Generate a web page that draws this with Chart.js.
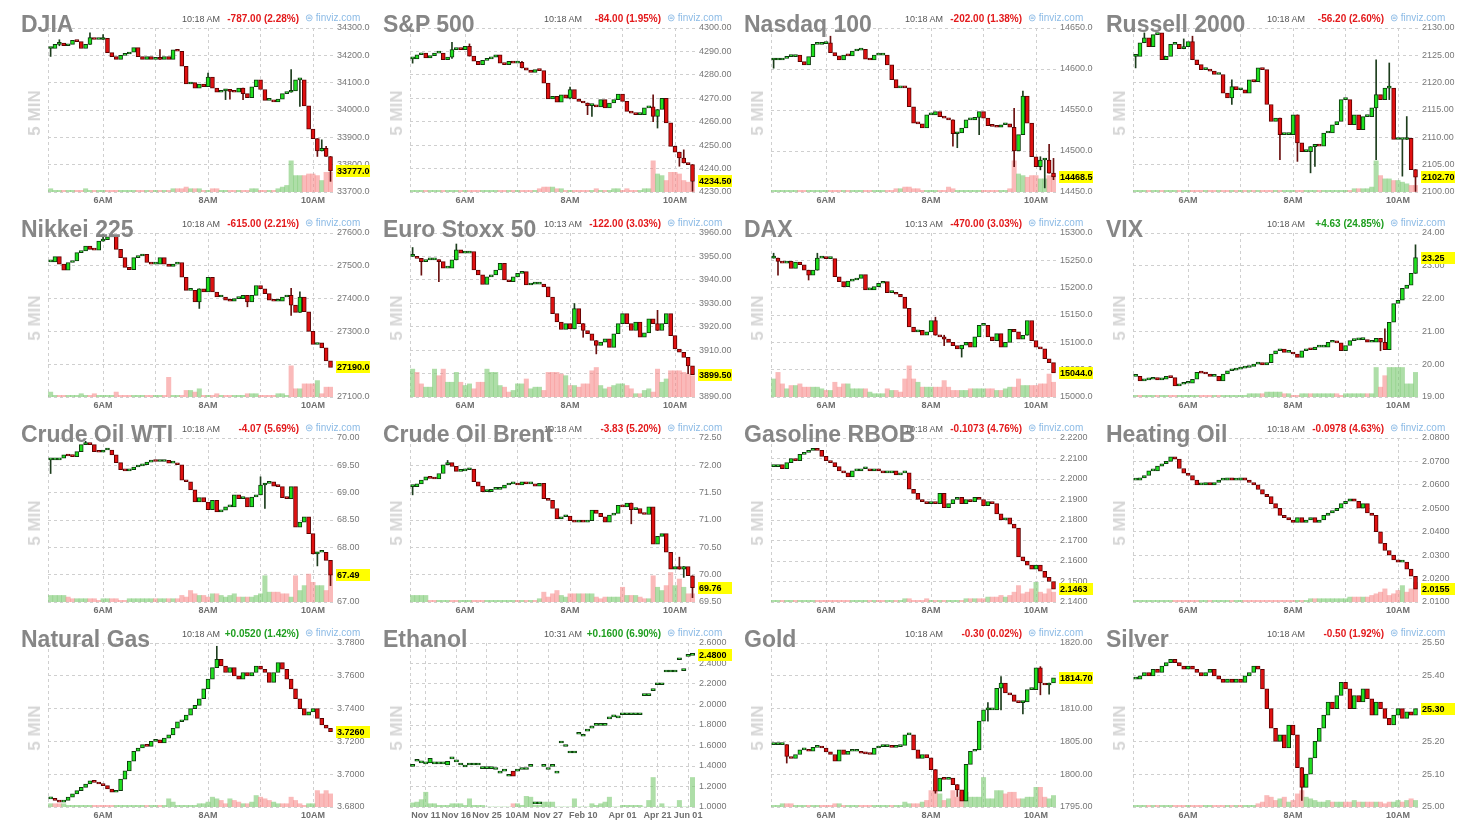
<!DOCTYPE html>
<html>
<head>
<meta charset="utf-8">
<script src="https://cdn.jsdelivr.net/npm/chart.js@4.4.0/dist/chart.umd.min.js"></script>
<style>
html, body { margin: 0; padding: 0; background: #fff; }
body { width: 1466px; height: 822px; position: relative; overflow: hidden; font-family: "Liberation Sans", Arial, sans-serif; }
canvas { position: absolute; }
.ttl { position: absolute; font-weight: bold; font-size: 23px; line-height: 23px; color: #868686; white-space: nowrap; z-index: 3; }
.tm { position: absolute; font-size: 9px; line-height: 10px; color: #555; white-space: nowrap; z-index: 2; }
.chg { position: absolute; font-size: 10px; line-height: 10px; font-weight: bold; text-align: right; width: 90px; white-space: nowrap; z-index: 2; }
.fv { position: absolute; font-size: 10px; line-height: 10px; color: #8cbbe6; white-space: nowrap; z-index: 2; }
.min5 { position: absolute; font-weight: bold; font-size: 17px; color: #d6d6d6; white-space: nowrap; transform: translate(-50%, -50%) rotate(-90deg); }
</style>
</head>
<body>
<script>
// 5 minute candles, 5:00 AM .. 10:20 AM (index 0 = 5:00)
const hourGrid = [12, 24, 36, 48, 60];
const hourTicks = [12, 36, 60];
const hourLabels = ['6AM', '8AM', '10AM'];

// wicks: [candle index, low, high] for the wicks that stick out visibly
const djiaClose = [34225,34240,34245,34235,34240,34255,34250,34225,34240,34265,
  34258,34258,34262,34210,34195,34185,34200,34205,34212,34228,
  34195,34185,34195,34185,34190,34185,34195,34185,34220,34215,
  34160,34095,34100,34080,34095,34085,34120,34080,34065,34070,
  34075,34068,34065,34080,34060,34045,34085,34110,34075,34035,
  34035,34030,34040,34060,34065,34070,34110,34110,34015,33930,
  33895,33850,33860,33830,33777];
const djiaVol = [2,1,1,1,1,1,1,1,2,1, 1,1,1,1,1,1,1,1,1,1, 1,1,1,1,1,1,1,1,2,2,
  2,3,2,2,2,1,1,2,2,1, 1,1,1,1,1,1,2,2,1,1, 1,1,2,3,4,19,10,10,10,11, 11,10,7,12,12];
const djiaWicks = [[0,34196,34228],[2,34235,34257],[9,34240,34282],[12,34258,34276],[25,34185,34221],
  [36,34085,34135],[40,34038,34075],[41,34040,34075],[44,34038,34080],[55,34065,34148],
  [57,34013,34110],[61,33830,33895],[62,33850,33891],[63,33830,33867],[64,33739,33830]];
const djiaTicks = [33700,33800,33900,34000,34100,34200,34300];

const spxClose = [4286.8,4288.6,4289.3,4287.2,4288.2,4289.3,4289.3,4286.5,4287.6,4290.8,
  4291,4290.8,4292.2,4288,4285.8,4284.4,4286.2,4286.8,4287.6,4288.6,
  4285,4284.4,4285.8,4285,4285.3,4283,4282,4281,4282.2,4281.8,
  4276.5,4269.7,4270.8,4268.3,4271.5,4270.1,4273.7,4269.7,4268.7,4268,
  4266.9,4266.9,4266.3,4269.4,4265.9,4268,4269.4,4271.8,4268.7,4264.4,
  4263.7,4263,4263,4265.9,4266.3,4262.3,4265.2,4270,4259.5,4249.5,
  4247,4244.5,4242.4,4241.7,4234.5];
const spxVol = [1,1,1,1,1,1,1,1,1,1, 1,1,1,1,1,1,1,1,1,1, 1,1,1,1,1,1,1,1,1,2,
  3,3,3,2,2,1,1,1,1,1, 1,1,2,1,1,1,2,2,1,2, 1,1,1,2,2,19,11,10,7,12, 12,11,7,6,6];
const spxWicks = [[0,4285,4287],[9,4287,4293.9],[13,4288,4293.2],[25,4283,4285.8],[36,4269.7,4274.8],
  [40,4263,4268],[41,4262.3,4267],[55,4260,4271.5],[56,4257.3,4265.2],[61,4241,4247],
  [62,4242.4,4248],[64,4230.3,4241.7]];
const spxTicks = [4230,4240,4250,4260,4270,4280,4290,4300];

const ndxClose = [14611,14611,14613,14615,14615,14617,14609,14605,14615,14630,
  14630,14631,14632,14620,14616,14611,14617,14616,14622,14623,
  14624,14612,14611,14617,14617,14617,14605,14587,14577,14578,
  14577,14554,14534,14533,14528,14544,14544,14548,14542,14540,
  14538,14521,14522,14528,14538,14538,14541,14548,14540,14531,
  14530,14529,14532,14533,14529,14500,14520,14567,14534,14493,
  14481,14489,14489,14473,14468.5];
const ndxVol = [1,1,1,1,1,1,1,1,1,1, 1,1,1,1,1,1,1,1,1,1, 1,1,1,1,1,1,1,1,2,2,
  3,3,2,2,1,1,1,1,1,1, 3,2,1,1,1,1,1,1,1,1, 1,1,1,1,2,19,11,10,9,10, 10,8,8,10,10];
const ndxWicks = [[0,14601,14612],[13,14620,14640],[41,14506,14538],[42,14504,14522],[47,14520,14541],
  [55,14481,14552],[57,14520,14573],[61,14477,14493],[62,14455,14489],[63,14473,14508],[64,14465,14491]];
const ndxTicks = [14450,14500,14550,14600,14650];

const rutClose = [2124.8,2127.3,2128.2,2126.6,2128.8,2129.1,2124.2,2124.8,2127,2127,
  2126.2,2126.6,2127.5,2124.2,2123.3,2122.4,2122.4,2122.1,2121.5,2121.5,
  2118.1,2117.2,2119.3,2118.7,2118.7,2118.1,2120.5,2120.2,2122.7,2122.4,
  2116,2112.9,2113.5,2110.5,2110.5,2110.5,2114.1,2109,2107.4,2107.4,
  2108.3,2108.7,2108.4,2110.8,2110.8,2112.3,2112.9,2116.9,2116.9,2112.3,
  2114.1,2111.4,2113.8,2113.8,2115.4,2117.8,2116.9,2119,2119,2109.6,
  2109.6,2109.6,2109.8,2104.1,2102.7];
const rutVol = [1,1,1,1,1,1,1,1,1,1, 1,1,1,1,1,1,1,1,1,1, 1,1,1,1,1,1,1,1,1,1,
  1,1,1,1,1,1,1,1,1,1, 1,1,1,1,1,1,1,1,1,1, 2,2,2,2,3,19,10,8,8,7, 7,6,5,4,4];
const rutWicks = [[0,2122.7,2125],[2,2127.3,2129.1],[11,2126.2,2128],[13,2124.2,2128.5],[22,2116,2120.5],
  [33,2105.9,2113.5],[37,2105.6,2114.1],[40,2103.5,2108.3],[41,2104.7,2108.7],[55,2105.9,2124.2],
  [58,2116.9,2123.6],[61,2102.9,2109.6],[62,2109.6,2113.8],[63,2104.1,2107.1],[64,2100.1,2104.1]];
const rutTicks = [2100,2105,2110,2115,2120,2125,2130];

const nikkeiClose = [27512,27528,27505,27487,27510,27515,27540,27545,27560,27550,
  27548,27575,27580,27588,27590,27550,27525,27495,27488,27525,
  27530,27535,27510,27505,27505,27525,27505,27498,27505,27510,
  27465,27425,27425,27390,27430,27420,27465,27420,27405,27405,
  27395,27392,27400,27400,27410,27390,27410,27440,27430,27415,
  27395,27392,27392,27405,27410,27380,27358,27405,27360,27300,
  27260,27265,27250,27210,27190];
const nikkeiVol = [3,1,1,1,1,1,1,2,1,1, 2,1,1,1,1,3,1,1,1,1, 1,1,1,1,1,1,1,12,1,1,
  1,4,4,3,5,1,1,1,2,1, 1,1,1,1,1,2,2,2,1,1, 1,1,2,2,1,19,5,5,8,8, 8,10,2,6,6];
const nikkeiWicks = [[12,27575,27595],[34,27370,27430],[45,27375,27410],[55,27349,27431],[57,27358,27421]];
const nikkeiTicks = [27100,27200,27300,27400,27500,27600];

const stoxxClose = [3950,3949.2,3947.8,3948.5,3948.5,3948.5,3947.8,3945,3945,3948.5,
  3952.8,3951.4,3951.4,3952.1,3944.2,3942.1,3938,3941.3,3942.1,3944.2,
  3947.1,3940,3939.2,3941.3,3942.8,3943.5,3937.8,3938.2,3938.2,3938.2,
  3937,3932.7,3925.6,3922,3918.8,3921.3,3919.1,3927.7,3921.3,3918.4,
  3917,3914.1,3912,3913.4,3914.8,3911.2,3917,3921.3,3925.6,3921.3,
  3918.4,3922,3915.5,3917.4,3923.4,3921.3,3918.4,3921.3,3925.6,3916.2,
  3910.5,3909.1,3906.9,3903.3,3899.5];
const stoxxVol = [17,15,8,6,6,17,13,17,9,9, 15,9,7,8,5,9,9,17,15,15, 7,6,3,4,8,8,11,5,6,6,
  4,15,15,15,14,13,7,7,6,8, 8,16,18,7,5,6,7,8,8,7, 5,2,2,4,5,3,17,9,11,16, 16,16,15,14,13];
const stoxxWicks = [[0,3950,3953.8],[2,3942,3949.2],[6,3939.2,3948.5],[10,3948.5,3955.3],[37,3919.1,3929.9],
  [39,3915.5,3921.3],[42,3908.4,3914.1],[56,3918.4,3927],[63,3900,3906.9]];
const stoxxTicks = [3890,3900,3910,3920,3930,3940,3950,3960];

const daxClose = [15254,15248,15245,15248,15235,15247,15242,15232,15223,15232,
  15254,15254,15253,15253,15220,15211,15202,15212,15214,15217,
  15224,15196,15196,15202,15208,15211,15191,15191,15188,15183,
  15162,15128,15119,15122,15113,15119,15140,15113,15110,15106,
  15100,15094,15088,15095,15100,15091,15110,15131,15131,15110,
  15103,15116,15091,15100,15124,15119,15106,15113,15140,15103,
  15091,15088,15070,15063,15044];
const daxVol = [11,15,8,5,7,7,8,6,6,6, 6,5,4,4,9,6,8,8,5,5, 5,5,3,2,2,2,5,4,4,3,
  11,19,11,9,6,6,6,6,6,10, 6,4,4,4,4,5,5,5,5,5, 5,4,4,5,6,6,11,7,7,7, 7,8,8,14,9];
const daxWicks = [[0,15254,15263],[1,15223,15254],[8,15214,15232],[10,15232,15263],[37,15113,15146],
  [39,15094,15113],[43,15073,15094],[58,15113,15137]];
const daxTicks = [15000,15050,15100,15150,15200,15250,15300];

const vixClose = [19.63,19.49,19.52,19.54,19.59,19.52,19.54,19.63,19.59,19.34,
  19.39,19.42,19.42,19.54,19.75,19.73,19.70,19.63,19.63,19.49,
  19.70,19.80,19.82,19.85,19.88,19.90,19.93,20.00,20.05,19.98,
  20.05,20.31,20.41,20.46,20.36,20.36,20.31,20.21,20.41,20.46,
  20.44,20.52,20.52,20.52,20.67,20.67,20.65,20.41,20.57,20.72,
  20.74,20.75,20.75,20.67,20.67,20.79,20.67,20.44,21.28,21.85,
  21.95,22.31,22.41,22.77,23.25];
const vixVol = [1,1,1,1,1,1,1,1,1,1, 1,1,1,1,1,1,1,1,1,1, 1,1,1,1,1,1,2,2,2,2,
  3,3,3,3,2,2,1,1,2,2, 2,2,2,2,2,2,2,1,2,2, 2,2,2,2,2,18,6,13,18,18, 18,18,8,8,15];
const vixWicks = [[56,20.41,20.79],[57,20.44,21.08],[63,22.6,22.77],[64,22.77,23.64]];
const vixTicks = [19,20,21,22,23,24];

const wtiClose = [69.60,69.60,69.63,69.69,69.67,69.66,69.75,69.88,69.91,69.88,
  69.75,69.74,69.78,69.78,69.69,69.55,69.42,69.40,69.42,69.47,
  69.49,69.51,69.56,69.59,69.57,69.57,69.59,69.54,69.54,69.51,
  69.23,69.20,69.05,68.83,68.91,68.83,68.69,68.86,68.65,68.68,
  68.74,68.74,68.96,68.89,68.91,68.74,68.92,68.96,69.14,69.17,
  69.20,69.12,69.11,68.91,68.89,69.11,68.37,68.46,68.56,68.25,
  67.88,67.91,67.91,67.76,67.49];
const wtiVol = [4,4,4,4,3,2,2,2,2,2, 2,1,2,2,2,2,1,1,2,2, 2,2,2,2,2,2,2,2,2,2,
  4,3,7,5,4,4,3,5,5,4, 3,4,5,3,3,3,3,4,5,16, 6,6,6,5,5,3,16,7,10,17, 12,10,10,7,17];
const wtiWicks = [[0,69.35,69.60],[8,69.88,69.94],[48,68.96,69.29],[49,68.71,69.17],[60,67.88,68.09],
  [61,67.66,67.91],[64,67.30,67.76]];
const wtiTicks = [67,67.5,68,68.5,69,69.5,70];

const brentClose = [71.61,71.66,71.73,71.79,71.76,71.75,71.85,72.01,72.05,71.98,
  71.89,71.90,71.92,71.93,71.70,71.62,71.52,71.52,71.56,71.56,
  71.58,71.64,71.66,71.66,71.64,71.70,71.66,71.66,71.62,71.67,
  71.39,71.36,71.21,71.02,71.06,71.07,70.99,70.96,70.99,70.96,
  70.99,71.18,71.12,71.06,70.96,71.09,71.12,71.27,71.24,71.31,
  71.19,71.21,71.12,71.10,71.24,70.56,70.70,70.75,70.41,70.10,
  70.15,70.10,70.15,69.98,69.76];
const brentVol = [4,4,4,4,1,1,1,1,1,1, 1,1,1,1,1,1,1,1,1,1, 1,1,1,1,1,1,1,1,1,2,
  6,3,5,7,4,3,5,5,5,5, 5,5,3,2,3,3,3,3,9,4, 4,4,3,2,2,16,9,7,10,18, 10,14,9,5,5];
const brentWicks = [[0,71.46,71.61],[8,72.01,72.09],[50,70.93,71.31],[61,70.10,70.32],[62,69.95,70.15],
  [64,69.58,69.98]];
const brentTicks = [69.5,70,70.5,71,71.5,72,72.5];

const rbobClose = [2.206,2.207,2.205,2.208,2.210,2.209,2.212,2.213,2.214,2.215,
  2.214,2.211,2.209,2.208,2.206,2.204,2.203,2.201,2.204,2.204,
  2.205,2.205,2.204,2.205,2.204,2.203,2.203,2.204,2.202,2.203,
  2.203,2.195,2.193,2.190,2.189,2.188,2.189,2.188,2.193,2.186,
  2.188,2.190,2.191,2.188,2.190,2.189,2.191,2.190,2.187,2.189,
  2.188,2.183,2.180,2.181,2.178,2.176,2.162,2.160,2.158,2.156,
  2.158,2.155,2.152,2.150,2.1463];
const rbobVol = [1,1,1,1,1,1,1,1,1,1, 1,1,1,1,1,1,1,1,1,1, 1,1,1,1,1,1,1,1,1,1,
  2,2,1,1,1,2,1,1,1,1, 1,1,1,1,2,2,2,2,2,3, 3,3,4,3,4,6,10,5,6,8, 12,6,5,8,6];
const rbobWicks = [];
const rbobTicks = [2.14,2.15,2.16,2.17,2.18,2.19,2.20,2.21,2.22];

const hoClose = [2.062,2.063,2.064,2.066,2.066,2.068,2.069,2.070,2.072,2.071,
  2.067,2.065,2.064,2.062,2.060,2.060,2.061,2.060,2.061,2.062,
  2.062,2.063,2.062,2.062,2.063,2.062,2.061,2.060,2.058,2.056,
  2.055,2.052,2.050,2.047,2.046,2.045,2.044,2.046,2.044,2.045,
  2.046,2.044,2.045,2.047,2.048,2.049,2.050,2.052,2.053,2.054,
  2.053,2.050,2.052,2.048,2.047,2.040,2.035,2.032,2.030,2.028,
  2.027,2.027,2.024,2.021,2.0155];
const hoVol = [1,1,1,1,1,1,1,1,1,1, 1,1,1,1,1,1,1,1,1,1, 1,1,1,1,1,1,1,1,1,1,
  1,1,1,1,1,1,1,1,1,1, 2,2,2,2,2,2,2,2,2,3, 3,3,3,3,4,5,6,8,4,5, 7,10,6,8,12];
const hoWicks = [];
const hoTicks = [2.01,2.02,2.03,2.04,2.05,2.06,2.07,2.08];

const ngClose = [3.685,3.684,3.683,3.684,3.686,3.688,3.690,3.692,3.694,3.696,
  3.695,3.694,3.693,3.691,3.689,3.690,3.697,3.702,3.708,3.714,
  3.716,3.718,3.717,3.720,3.721,3.719,3.722,3.724,3.728,3.732,
  3.733,3.736,3.740,3.742,3.746,3.752,3.758,3.765,3.770,3.766,
  3.762,3.765,3.760,3.758,3.762,3.760,3.762,3.766,3.764,3.762,
  3.756,3.762,3.768,3.764,3.758,3.752,3.746,3.740,3.736,3.738,
  3.740,3.734,3.730,3.728,3.726];
const ngVol = [2,2,2,2,1,1,1,1,1,1, 1,1,1,1,1,1,1,1,1,1, 1,1,1,1,1,1,1,5,3,1,
  1,1,1,1,2,2,3,6,5,4, 2,5,4,3,2,2,3,7,6,5, 4,3,2,2,2,6,4,2,1,2, 2,10,8,10,8];
const ngWicks = [[38,3.765,3.778]];
const ngTicks = [3.68,3.70,3.72,3.74,3.76,3.78];

// Ethanol: daily bars, mostly flat
const ethClose = [1.397,1.446,1.43,1.42,1.475,1.42,1.42,1.42,1.445,1.47,
  1.44,1.41,1.39,1.41,1.41,1.41,1.375,1.375,1.375,1.366,
  1.33,1.35,1.30,1.30,1.35,1.366,1.366,1.397,1.03,1.03,
  1.397,1.366,1.397,1.33,1.624,1.59,1.527,1.527,1.71,1.69,
  1.74,1.77,1.797,1.797,1.797,1.86,1.88,1.87,1.90,1.90,
  1.90,1.90,1.90,2.086,2.086,2.135,2.193,2.193,2.317,2.317,
  2.317,2.437,2.33,2.47,2.48];
const ethBoxes = [[4, 1.43], [8, 1.41], [23, 1.35]];
const ethVol = [2.5,3,4.5,9,2,2,1,1,1,2, 2,2,1,5,1,1,1,0,0,0, 0,0,0,2,2,1,6.5,6,1,1,
  3,3,3,0,0,0,0,5,0,0, 0,2,1,2,3,6,0,0,1,1, 1,1,1,0,4,18,0,2,0,0, 0,4,0,0,18];
const ethTicks = [1.0,1.2,1.4,1.6,1.8,2.0,2.2,2.4,2.6];
const ethDatePos = [3,10,17,24,31,39,48,56,63];
const ethDateLabels = ['Nov 11','Nov 16','Nov 25','10AM','Nov 27','Feb 10','Apr 01','Apr 21','Jun 01'];

const goldClose = [1804.5,1804.5,1804.5,1802.7,1802.4,1803,1803.7,1803.7,1803.5,1804.1,
  1804.2,1804,1803.4,1803,1802,1803.7,1803,1803.5,1803.5,1803.5,
  1803.2,1803.1,1803,1804,1804.2,1804.2,1804.2,1804.1,1804.2,1804.4,
  1806,1806,1803.7,1802.4,1803,1802.5,1800.7,1797.4,1799.4,1799.2,
  1799.4,1798.4,1797.6,1795.9,1801.5,1803.5,1803.7,1808.1,1809.8,1809.8,
  1809.8,1813.1,1813.9,1812.4,1812.1,1811.1,1810.9,1811,1812.9,1812.9,
  1816.2,1813.9,1813.6,1813.9,1814.7];
const goldVol = [1,1,2,2,2,1,1,1,1,1, 1,1,1,1,2,2,1,1,1,1, 1,1,1,1,1,1,1,1,1,1,
  3,2,2,2,3,4,10,17,8,4, 5,10,6,9,9,6,6,6,18,5, 5,10,10,8,9,9,5,5,6,6, 12,12,6,5,7];
const goldWicks = [[3,1801.7,1804.5],[37,1797.1,1800.7],[42,1796.6,1798.4],[49,1808.1,1810.9],
  [52,1809.8,1814.9],[57,1809.2,1811.1],[61,1812.1,1816.4],[63,1812.2,1813.9]];
const goldTicks = [1795,1800,1805,1810,1815,1820];

const silverClose = [25.39,25.40,25.41,25.40,25.42,25.41,25.43,25.44,25.45,25.44,
  25.43,25.42,25.43,25.42,25.41,25.40,25.41,25.42,25.40,25.39,
  25.38,25.39,25.38,25.39,25.38,25.40,25.41,25.43,25.42,25.36,
  25.30,25.24,25.20,25.22,25.18,25.25,25.22,25.12,25.06,25.10,
  25.15,25.20,25.24,25.28,25.32,25.30,25.34,25.38,25.36,25.30,
  25.34,25.32,25.36,25.33,25.28,25.32,25.30,25.27,25.25,25.28,
  25.30,25.27,25.29,25.28,25.30];
const silverVol = [1,1,1,1,1,1,1,1,1,1, 1,1,1,1,1,1,1,1,1,1, 1,1,1,1,1,1,1,1,2,3,
  7,6,4,5,6,3,4,8,10,6, 5,4,3,3,4,3,3,3,3,3, 4,3,3,3,3,3,3,2,3,3, 4,3,4,5,4];
const silverWicks = [[38,25.02,25.12]];
const silverTicks = [25.0,25.1,25.2,25.3,25.4,25.5];

const panels = [
  {name: 'DJIA', time: '10:18 AM', chg: '-787.00 (2.28%)', close: djiaClose, vol: djiaVol, wicks: djiaWicks, ticks: djiaTicks, dec: 2},
  {name: 'S&P 500', time: '10:18 AM', chg: '-84.00 (1.95%)', close: spxClose, vol: spxVol, wicks: spxWicks, ticks: spxTicks, dec: 2},
  {name: 'Nasdaq 100', time: '10:18 AM', chg: '-202.00 (1.38%)', close: ndxClose, vol: ndxVol, wicks: ndxWicks, ticks: ndxTicks, dec: 2},
  {name: 'Russell 2000', time: '10:18 AM', chg: '-56.20 (2.60%)', close: rutClose, vol: rutVol, wicks: rutWicks, ticks: rutTicks, dec: 2},
  {name: 'Nikkei 225', time: '10:18 AM', chg: '-615.00 (2.21%)', close: nikkeiClose, vol: nikkeiVol, wicks: nikkeiWicks, ticks: nikkeiTicks, dec: 2},
  {name: 'Euro Stoxx 50', time: '10:13 AM', chg: '-122.00 (3.03%)', close: stoxxClose, vol: stoxxVol, wicks: stoxxWicks, ticks: stoxxTicks, dec: 2},
  {name: 'DAX', time: '10:13 AM', chg: '-470.00 (3.03%)', close: daxClose, vol: daxVol, wicks: daxWicks, ticks: daxTicks, dec: 2},
  {name: 'VIX', time: '10:18 AM', chg: '+4.63 (24.85%)', close: vixClose, vol: vixVol, wicks: vixWicks, ticks: vixTicks, dec: 2},
  {name: 'Crude Oil WTI', time: '10:18 AM', chg: '-4.07 (5.69%)', close: wtiClose, vol: wtiVol, wicks: wtiWicks, ticks: wtiTicks, dec: 2},
  {name: 'Crude Oil Brent', time: '10:18 AM', chg: '-3.83 (5.20%)', close: brentClose, vol: brentVol, wicks: brentWicks, ticks: brentTicks, dec: 2},
  {name: 'Gasoline RBOB', time: '10:18 AM', chg: '-0.1073 (4.76%)', close: rbobClose, vol: rbobVol, wicks: rbobWicks, ticks: rbobTicks, dec: 4},
  {name: 'Heating Oil', time: '10:18 AM', chg: '-0.0978 (4.63%)', close: hoClose, vol: hoVol, wicks: hoWicks, ticks: hoTicks, dec: 4},
  {name: 'Natural Gas', time: '10:18 AM', chg: '+0.0520 (1.42%)', close: ngClose, vol: ngVol, wicks: ngWicks, ticks: ngTicks, dec: 4},
  {name: 'Ethanol', time: '10:31 AM', chg: '+0.1600 (6.90%)', close: ethClose, vol: ethVol, wicks: [], ticks: ethTicks, dec: 4,
    boxes: ethBoxes, gridPos: ethDatePos, labelPos: ethDatePos, labels: ethDateLabels, wide: true},
  {name: 'Gold', time: '10:18 AM', chg: '-0.30 (0.02%)', close: goldClose, vol: goldVol, wicks: goldWicks, ticks: goldTicks, dec: 2},
  {name: 'Silver', time: '10:18 AM', chg: '-0.50 (1.92%)', close: silverClose, vol: silverVol, wicks: silverWicks, ticks: silverTicks, dec: 2}
];

const FONT = '"Liberation Sans", Arial, sans-serif';
const X_MIN = -0.6, X_MAX = 64.8;

// yellow last-price tag on the right axis
const lastTag = {
  id: 'lastTag',
  afterDraw(chart, args, opts) {
    const ctx = chart.ctx;
    const y = chart.scales.y.getPixelForValue(opts.value);
    const x = chart.chartArea.right + 2;
    ctx.save();
    ctx.fillStyle = '#ffff00';
    ctx.fillRect(x, Math.round(y) - 6, 40, 12);
    ctx.fillStyle = '#000';
    ctx.font = 'bold 9px ' + FONT;
    ctx.textBaseline = 'middle';
    ctx.fillText(opts.text, x + 1, y + 0.5);
    ctx.restore();
  }
};

function addDiv(cls, text, css) {
  const d = document.createElement('div');
  d.className = cls;
  d.textContent = text;
  Object.assign(d.style, css);
  document.body.appendChild(d);
  return d;
}

panels.forEach((p, idx) => {
  const col = idx % 4, row = Math.floor(idx / 4);
  const left = Math.round(col * 361.7), top = row * 205;

  const cv = document.createElement('canvas');
  cv.width = 370; cv.height = 205;
  cv.style.left = left + 'px'; cv.style.top = top + 'px';
  document.body.appendChild(cv);

  addDiv('ttl', p.name, {left: (left + 21) + 'px', top: (top + 13) + 'px'});
  addDiv('tm', p.time, {left: (left + 182) + 'px', top: (top + 14) + 'px'});
  addDiv('chg', p.chg, {left: (left + 209) + 'px', top: (top + 14) + 'px', color: p.chg[0] === '+' ? '#1f9e1f' : '#e3191b'});
  addDiv('fv', '\u229C finviz.com', {left: (left + 305) + 'px', top: (top + 13) + 'px'});
  addDiv('min5', '5 MIN', {left: (left + 35) + 'px', top: (top + 113) + 'px'});

  const close = p.close;
  let open;
  if (p.boxes) {
    open = close.slice();
    p.boxes.forEach(([i, o]) => { open[i] = o; });
  } else {
    open = close.map((c, i) => i === 0 ? c : close[i - 1]);
  }
  const up = close.map((c, i) => c >= open[i]);

  const gridPos = [X_MIN].concat(p.gridPos || hourGrid);
  const labelPos = p.labelPos || hourTicks;
  const labels = p.labels || hourLabels;
  const yMin = p.ticks[0], yMax = p.ticks[p.ticks.length - 1];
  const last = close[close.length - 1];

  new Chart(cv, {
    type: 'bar',
    data: {
      datasets: [
        {
          data: close.map((c, i) => ({x: i, y: [open[i], c]})),
          backgroundColor: up.map(u => u ? '#1fe01f' : '#e01010'),
          borderColor: up.map(u => u ? '#0d3a0d' : '#5c0000'),
          borderWidth: 1,
          borderSkipped: false,
          barThickness: p.wide ? 4.4 : 4,
          minBarLength: 2,
          grouped: false,
          order: 0,
          yAxisID: 'y'
        },
        {
          data: p.wicks.map(w => ({x: w[0], y: [w[1], w[2]]})),
          backgroundColor: p.wicks.map(w => up[w[0]] ? '#1d3d1d' : '#6a1010'),
          borderWidth: 0,
          barThickness: 1,
          grouped: false,
          order: 1,
          yAxisID: 'y'
        },
        {
          data: p.vol.map((v, i) => ({x: i, y: v})),
          backgroundColor: up.map(u => u ? 'rgba(120,200,110,0.6)' : 'rgba(245,130,130,0.55)'),
          borderWidth: 0,
          barPercentage: 1,
          categoryPercentage: 1,
          grouped: false,
          order: 2,
          yAxisID: 'yv'
        }
      ]
    },
    options: {
      responsive: false,
      devicePixelRatio: 1,
      animation: false,
      events: [],
      layout: {padding: {top: 28, left: 48, right: 0, bottom: 0}},
      plugins: {
        legend: {display: false},
        tooltip: {enabled: false},
        lastTag: {value: last, text: last.toFixed(p.dec)}
      },
      scales: {
        x: {
          type: 'linear',
          min: X_MIN,
          max: X_MAX,
          offset: false,
          afterBuildTicks: s => { s.ticks = gridPos.map(v => ({value: v})); },
          afterFit: s => { s.height = 13; },
          ticks: {
            autoSkip: false, maxRotation: 0, padding: 3, color: '#6e6e6e',
            font: {size: 9, weight: 'bold', family: FONT},
            callback: v => { const k = labelPos.indexOf(v); return k < 0 ? '' : labels[k]; }
          },
          grid: {color: '#cfcfcf', drawTicks: false, offset: false},
          border: {display: false, dash: [3, 3]}
        },
        y: {
          position: 'right',
          min: yMin,
          max: yMax,
          afterBuildTicks: s => { s.ticks = p.ticks.map(v => ({value: v})); },
          afterFit: s => { s.width = 36; },
          ticks: {
            padding: 3, color: '#777',
            font: {size: 9, family: FONT},
            callback: v => Number(v).toFixed(p.dec)
          },
          grid: {color: '#cfcfcf', drawTicks: false},
          border: {display: false, dash: [3, 3]}
        },
        yv: {display: false, min: 0, max: 100}
      }
    },
    plugins: [lastTag]
  });
});
</script>
</body>
</html>
